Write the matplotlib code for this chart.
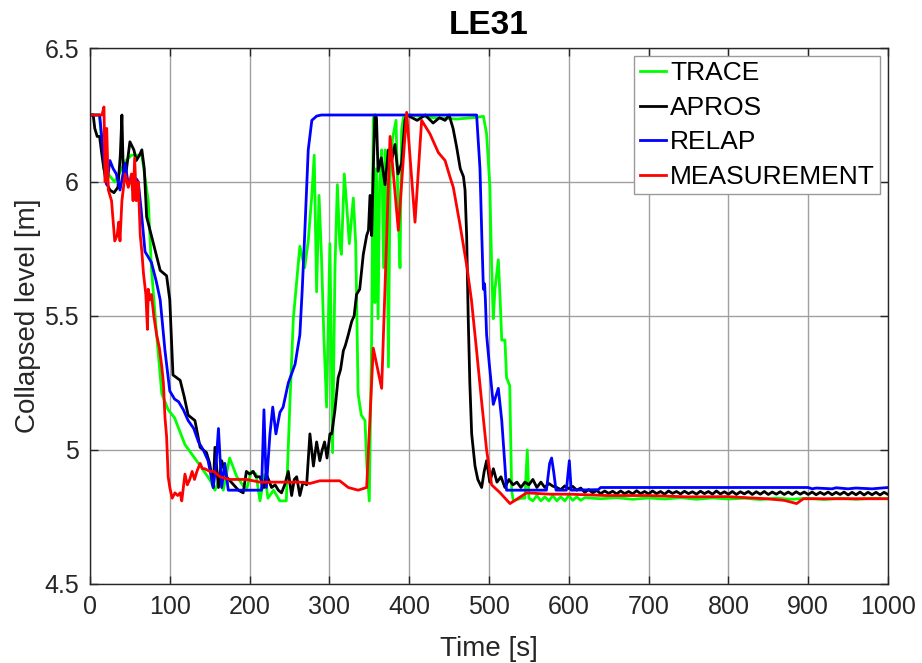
import matplotlib.pyplot as plt

plt.rcParams['font.family'] = ['Liberation Sans', 'DejaVu Sans']

# TRACE
trace_t = [0, 12, 17, 31, 45, 52, 65, 73, 77, 83.5, 90, 98, 106, 119, 136, 150, 156.6, 162, 167, 175,
           184, 196, 202, 208, 213, 219, 223, 230, 238, 246, 250.6, 254.8, 259, 263, 269, 273.5, 278, 281,
           284, 287, 290, 293, 296.5, 300.7, 304, 307, 310, 313, 315, 318.7, 322, 325, 330, 333, 336, 340,
           344.6, 347, 350, 353, 355, 357, 359, 361, 363, 365.5, 368, 370, 372, 374, 376, 379, 383.5, 386,
           388.5, 390.5, 392.6, 400, 430, 460, 480, 493, 497, 501, 503.4, 505.4, 507.5, 511.7, 514, 516,
           520, 522, 526, 528.4, 530.5, 540, 545, 548, 550,
           555, 560, 565, 570, 575, 580, 585, 590, 595, 600, 605, 610, 615, 620,
           640, 660, 680, 700, 720, 740, 760, 780, 800, 820, 840, 860, 880, 900, 920, 940, 960, 980, 1000]
trace_v = [6.25, 6.25, 6.05, 6.0, 6.08, 6.1, 6.1, 5.93, 5.68, 5.43, 5.21, 5.15, 5.12, 5.02, 4.95, 4.89, 4.85, 4.89, 4.85, 4.97,
           4.90, 4.85, 4.92, 4.91, 4.81, 4.91, 4.82, 4.85, 4.81, 4.81, 5.18, 5.49, 5.63, 5.76, 5.68, 5.78, 5.95, 6.1,
           5.59, 5.95, 5.73, 5.43, 5.16, 5.77, 4.99, 5.68, 5.99, 5.77, 5.73, 6.03, 5.9, 5.77, 5.94, 5.77, 5.21, 5.13,
           5.11, 4.94, 4.81, 5.43, 6.24, 5.55, 6.05, 5.49, 5.99, 6.12, 5.68, 6.12, 5.9, 5.31, 6.01, 6.16, 6.23, 5.92,
           5.68, 6.19, 6.24, 6.25, 6.24, 6.235, 6.24, 6.245, 6.18, 5.99, 5.68, 5.49, 5.6, 5.71, 5.56, 5.41,
           5.41, 5.27, 5.24, 4.85, 4.81, 4.82, 4.82, 5.0, 4.82,
           4.81, 4.83, 4.81, 4.825, 4.81, 4.83, 4.81, 4.825, 4.81, 4.83, 4.812, 4.825, 4.812, 4.822,
           4.818, 4.822, 4.816, 4.821, 4.817, 4.822, 4.816, 4.821, 4.817, 4.82, 4.815, 4.82, 4.816, 4.82, 4.815, 4.82, 4.816, 4.82, 4.818]

# APROS
apros_t = [0, 4, 6, 9, 12, 15, 20, 25, 30, 35, 38, 40, 42, 45, 50, 55, 58, 62, 65, 68, 71, 77, 83, 88, 96, 100,
           104, 113, 118, 123, 131.5, 138, 146, 150, 154.5, 156.6, 161, 165, 171, 180, 186, 192, 196, 200, 204.6,
           208, 213, 218, 221, 225, 227.6, 232, 236, 240, 244, 248.5, 252.7, 256, 259, 263, 267, 271.5, 275.6,
           280, 284, 288, 291, 294, 297, 300.7, 303, 307, 311, 314, 317.5, 320, 323.7, 328, 331, 334, 338, 342.5,
           346.7, 349, 350.9, 353, 355, 357, 359, 361, 365, 369.7, 374, 378, 382.2, 386, 390.5, 394.7, 397, 410,
           420, 430, 438, 445, 450, 455, 459.5, 464, 468, 470, 472, 474, 476, 478.3, 482.5, 486, 490.8, 494, 497,
           501, 505.5, 510, 515, 520, 525, 530, 535, 540, 545, 550, 555, 560, 565, 570, 575, 580, 585, 590, 595,
           600, 605, 610, 615, 620, 625, 630, 635, 640, 645, 650, 655, 660, 665, 670, 675, 680, 685, 690, 695,
           700, 705, 710, 715, 720, 725, 730, 735, 740, 745, 750, 755, 760, 765, 770, 775, 780, 785, 790, 795,
           800, 805, 810, 815, 820, 825, 830, 835, 840, 845, 850, 855, 860, 865, 870, 875, 880, 885, 890, 895,
           900, 905, 910, 915, 920, 925, 930, 935, 940, 945, 950, 955, 960, 965, 970, 975, 980, 985, 990, 995, 1000]
apros_v = [6.25, 6.25, 6.2, 6.17, 6.17, 6.1, 6.0, 5.97, 5.96, 5.98, 6.1, 6.25, 6.0, 6.03, 6.15, 6.12, 6.08, 6.1, 6.12, 6.05, 5.87, 5.8, 5.73, 5.67, 5.65, 5.56,
           5.28, 5.26, 5.2, 5.13, 5.11, 5.01, 4.99, 4.95, 4.86, 5.01, 4.86, 4.96, 4.90, 4.87, 4.85, 4.84, 4.92, 4.91, 4.92,
           4.90, 4.90, 4.86, 4.91, 4.88, 4.86, 4.87, 4.85, 4.84, 4.87, 4.92, 4.83, 4.89, 4.90, 4.83, 4.88, 4.87, 5.06,
           4.94, 5.03, 4.96, 5.0, 5.03, 4.97, 5.06, 5.06, 5.15, 5.27, 5.3, 5.37, 5.39, 5.43, 5.48, 5.5, 5.58, 5.6, 5.73,
           5.80, 5.82, 5.95, 5.80, 6.05, 6.25, 6.24, 6.04, 6.09, 5.99, 6.12, 6.08, 6.14, 6.03, 6.07, 6.23, 6.25, 6.23,
           6.25, 6.22, 6.24, 6.23, 6.25, 6.2, 6.13, 6.05, 6.02, 5.97, 5.8, 5.49, 5.25, 5.06, 4.94, 4.89, 4.86, 4.92, 4.96,
           4.88, 4.93, 4.88, 4.90, 4.86, 4.89, 4.87, 4.88, 4.86, 4.88, 4.87, 4.89, 4.86, 4.88, 4.86, 4.875, 4.865, 4.86, 4.852, 4.866,
           4.856, 4.864, 4.85, 4.858, 4.842, 4.852, 4.84, 4.849, 4.837, 4.847, 4.838, 4.846, 4.836, 4.847, 4.837, 4.845, 4.836, 4.848, 4.837, 4.845,
           4.836, 4.847, 4.837, 4.845, 4.835, 4.847, 4.838, 4.845, 4.836, 4.846, 4.837, 4.844, 4.835, 4.846, 4.837, 4.845, 4.835, 4.847, 4.836, 4.844,
           4.835, 4.845, 4.834, 4.844, 4.836, 4.845, 4.834, 4.844, 4.835, 4.845, 4.834, 4.843, 4.835, 4.844, 4.834, 4.843, 4.834, 4.844, 4.835, 4.843,
           4.834, 4.843, 4.833, 4.842, 4.834, 4.843, 4.833, 4.842, 4.834, 4.843, 4.832, 4.842, 4.833, 4.843, 4.832, 4.842, 4.833, 4.842, 4.832, 4.842, 4.834]

# RELAP
relap_t = [0, 12, 17, 21, 25, 29, 33, 37.6, 44, 48, 53, 58.5, 60.5, 64, 69, 77, 83, 88, 94, 100, 106, 111, 117,
           123, 130, 136, 142, 148, 154.5, 158, 161, 165, 169, 173.3, 215, 218, 221, 225.5, 229, 233, 238, 242,
           248.5, 257, 263, 266, 269, 273.5, 278, 284, 290, 484.5, 488.7, 491, 493, 494.5, 495.5, 497, 500.4,
           505.4, 511.7, 516, 520, 522, 572, 576, 578.5, 581, 584, 597, 600.7, 603, 637, 640, 700, 800, 900,
           905, 910, 930, 935, 950, 960, 980, 1000]
relap_v = [6.25, 6.25, 6.1, 5.99, 6.08, 6.05, 6.03, 5.97, 6.07, 5.99, 6.02, 6.01, 6.0, 5.9, 5.74, 5.7, 5.63, 5.56, 5.37, 5.22, 5.19, 5.18, 5.15,
           5.11, 5.08, 5.03, 5.0, 4.96, 4.86, 4.95, 5.08, 4.86, 4.95, 4.85, 4.85, 5.15, 4.86, 5.06, 5.16, 5.06, 5.14, 5.16,
           5.25, 5.32, 5.43, 5.6, 5.8, 6.12, 6.23, 6.246, 6.25, 6.25, 6.05, 5.8, 5.6, 5.62, 5.56, 5.43, 5.32,
           5.17, 5.23, 5.11, 4.94, 4.85, 4.85, 4.95, 4.97, 4.92, 4.85, 4.85, 4.96, 4.85, 4.852, 4.86, 4.86, 4.86, 4.86,
           4.855, 4.858, 4.855, 4.859, 4.855, 4.858, 4.855, 4.86]

# MEASUREMENT
meas_t = [0, 15, 17.5, 19, 21, 23, 27, 31, 34, 36, 37.6, 40, 44, 48, 52, 54, 56, 58, 60.5, 63, 65, 67, 70, 72, 73,
          75, 77, 80, 83.5, 87, 90, 92, 94, 96, 98, 100, 103, 106.5, 110, 113, 115, 117, 119, 122, 125, 128, 131,
          134, 138, 141, 144, 150, 155, 163, 175, 196, 213, 230, 242, 263, 275.6, 288, 313, 323.7, 336, 346.7,
          355, 365.5, 376, 386.4, 396.8, 407.3, 415.6, 426, 436.5, 445, 451, 455.3, 463.7, 472, 478, 484.5,
          490.8, 497, 503.3, 514, 526.3, 536.8, 547.2, 576.5, 601.5, 647, 700, 750, 798, 848, 870, 885.5, 894,
          950, 1000]
meas_v = [6.25, 6.25, 6.28, 6.0, 6.2, 5.97, 5.93, 5.78, 5.8, 5.85, 5.78, 5.93, 6.03, 5.98, 6.03, 5.93, 6.09, 5.93, 6.0, 5.8, 5.74, 5.66, 5.58, 5.45, 5.6,
          5.56, 5.58, 5.5, 5.43, 5.38, 5.31, 5.25, 5.12, 5.05, 4.9, 4.86, 4.82, 4.84, 4.83, 4.84, 4.81, 4.86, 4.91, 4.87, 4.89, 4.92, 4.89,
          4.92, 4.95, 4.93, 4.93, 4.92, 4.92, 4.90, 4.89, 4.89, 4.88, 4.88, 4.88, 4.88, 4.875, 4.885, 4.885, 4.86, 4.85, 4.86,
          5.38, 5.23, 6.17, 5.82, 6.26, 5.85, 6.23, 6.18, 6.11, 6.08, 6.02, 5.98, 5.84, 5.69, 5.56, 5.37,
          5.18, 5.0, 4.87, 4.84, 4.80, 4.82, 4.84, 4.835, 4.835, 4.83, 4.83, 4.825, 4.826, 4.818, 4.812, 4.80, 4.818,
          4.818, 4.818]

fig = plt.figure(figsize=(9.22, 6.63), dpi=100)
ax = fig.add_axes([0.0976, 0.1192, 0.8655, 0.8084])

ax.plot(trace_t, trace_v, color='#00ff00', lw=2, label='TRACE')
ax.plot(apros_t, apros_v, color='black', lw=2, label='APROS')
ax.plot(relap_t, relap_v, color='#0000ff', lw=2, label='RELAP')
ax.plot(meas_t, meas_v, color='#ff0000', lw=2, label='MEASUREMENT')

ax.set_xlim(0, 1000)
ax.set_ylim(4.5, 6.5)
ax.set_xticks(range(0, 1001, 100))
ax.set_yticks([4.5, 5, 5.5, 6, 6.5])
ax.set_yticklabels(['4.5', '5', '5.5', '6', '6.5'])
ax.grid(True, color='#a0a0a0', lw=1)
ax.tick_params(direction='in', top=True, right=True, length=6, width=1, labelsize=18,
               colors='#262626', pad=8)
for s in ax.spines.values():
    s.set_color('#262626')
    s.set_linewidth(1)

ax.set_xlabel('Time [s]', fontsize=20, color='#262626', labelpad=12)
ax.set_ylabel('Collapsed level [m]', fontsize=20, color='#262626', labelpad=2)
ax.set_title('LE31', fontsize=24, fontweight='bold', pad=10)

leg = ax.legend(loc='upper right', fontsize=19, frameon=True, fancybox=False, framealpha=1,
                edgecolor='#9a9a9a', handlelength=1.0, handletextpad=0.15, labelspacing=0.4,
                borderpad=0.2, borderaxespad=0.3)
leg.get_frame().set_linewidth(1)

fig.savefig('out.png', dpi=100)
